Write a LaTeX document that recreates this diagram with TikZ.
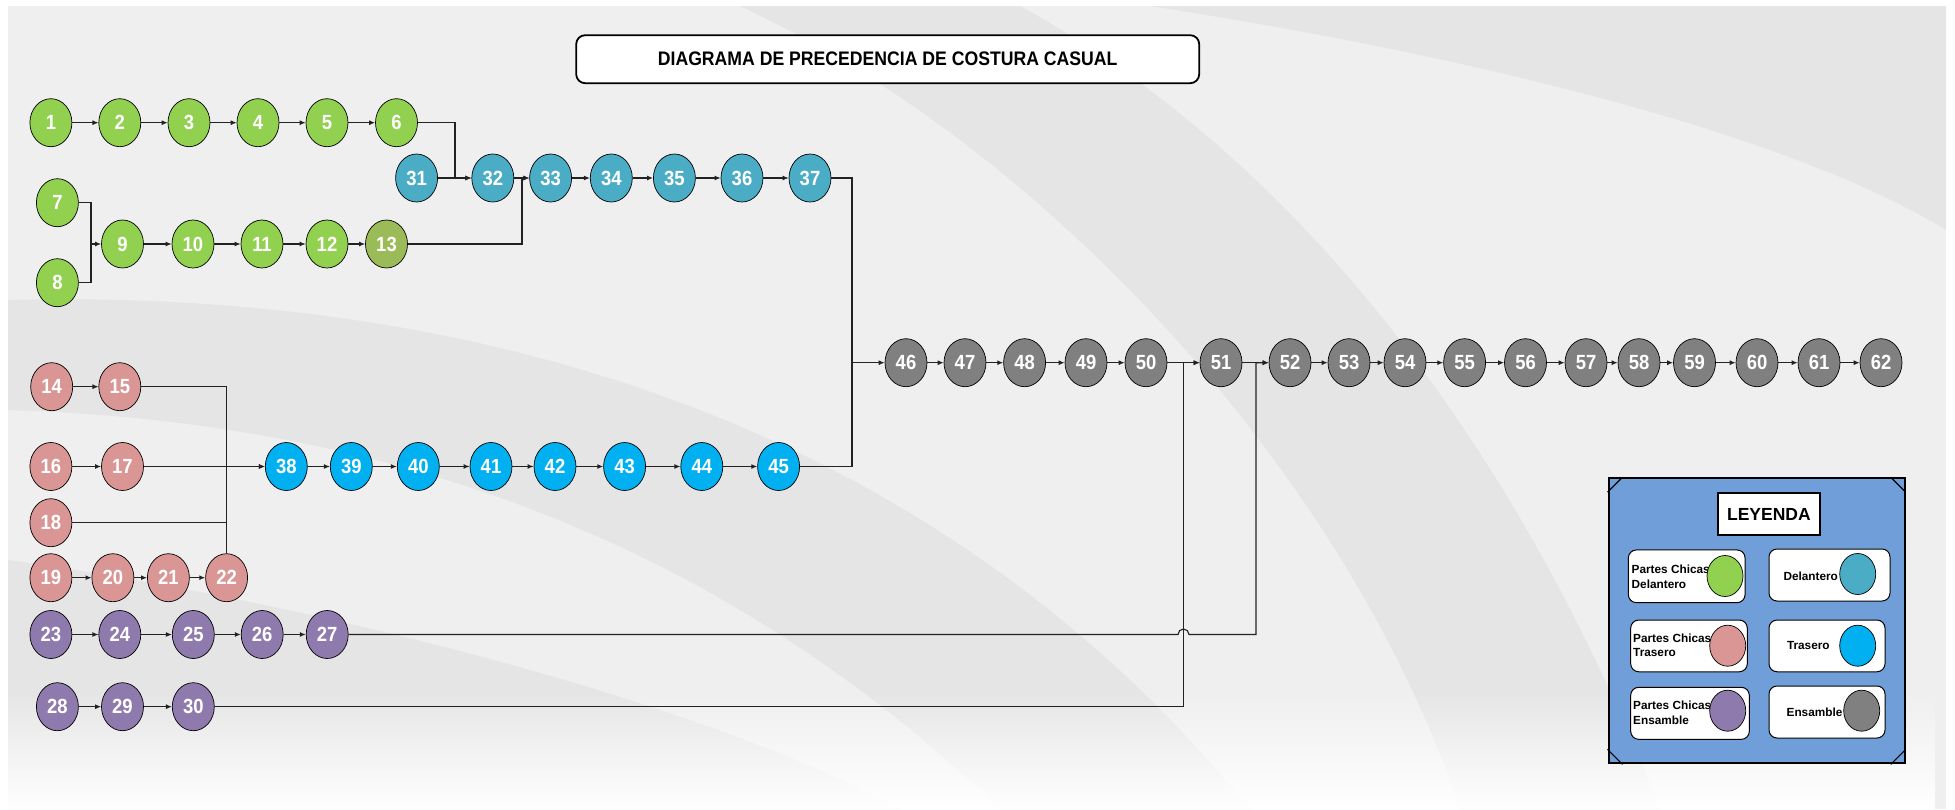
\documentclass[tikz,border=0pt]{standalone}
\usepackage{fontspec}
\setmainfont{Liberation Sans}
\newfontfamily\narrowfont[FakeStretch=0.9]{Liberation Sans}
\usetikzlibrary{shapes.geometric,arrows.meta,calc,fadings}
\definecolor{cgreen}{HTML}{92D050}
\definecolor{colive}{HTML}{9BBB59}
\definecolor{cteal}{HTML}{4BACC6}
\definecolor{ccyan}{HTML}{00B0F0}
\definecolor{cpink}{HTML}{DA9694}
\definecolor{cpurple}{HTML}{8F7AAD}
\definecolor{cgray}{HTML}{808080}
\definecolor{legblue}{HTML}{6F9ED8}
\definecolor{bgmain}{HTML}{EFEFEF}
\definecolor{bgdark}{HTML}{E5E5E5}
\definecolor{lineclr}{HTML}{222222}
\begin{document}
\begin{tikzpicture}[x=1pt,y=-1pt,
  nd/.style={ellipse, draw=black, line width=0.7pt, minimum width=42pt, minimum height=48pt, inner sep=0pt, text=white, font=\narrowfont\fontsize{20.5}{20.5}\selectfont\bfseries},
  pcd/.style={nd, fill=cgreen},
  pcdo/.style={nd, fill=colive},
  del/.style={nd, fill=cteal},
  pct/.style={nd, fill=cpink},
  tra/.style={nd, fill=ccyan},
  pce/.style={nd, fill=cpurple},
  ens/.style={nd, fill=cgray},
  con/.style={draw=lineclr, line width=1.1pt},
  arr/.style={con, -{Latex[length=6pt,width=5pt]}},
  legitem/.style={draw=black, fill=white, line width=1pt, rounded corners=8pt, inner sep=0pt},
  legdot/.style={ellipse, draw=black, line width=0.7pt, minimum width=36pt, minimum height=41pt, inner sep=0pt},
  legtxt/.style={font=\fontsize{11.8}{14.8}\selectfont\bfseries, inner sep=0pt, align=left}
]
\useasboundingbox (0,0) rectangle (1955,809);
% background
\fill[white] (0,0) rectangle (1955,809);
\fill[bgmain] (8,6) rectangle (1946,809);
\fill[bgdark] (8,300) .. controls (400,290) and (900,380) .. (1250,809) -- (1000,809) .. controls (700,520) and (350,420) .. (8,410) -- cycle;
\fill[bgdark] (740,6) .. controls (1050,150) and (1350,480) .. (1460,809) -- (1660,809) .. controls (1520,450) and (1300,160) .. (1020,6) -- cycle;
\fill[bgdark] (1150,6) .. controls (1500,60) and (1800,140) .. (1946,230) -- (1946,6) -- cycle;
\fill[bgdark] (8,560) .. controls (300,600) and (700,700) .. (900,809) -- (8,809) -- cycle;
\fill[white, path fading=north] (8,690) rectangle (1946,809);
% title
\node[draw=black, fill=white, line width=1.8pt, rounded corners=9pt, minimum width=623pt, minimum height=48pt, font=\narrowfont\fontsize{19.6}{19.6}\selectfont\bfseries] (title) at (887.7,59.2) {DIAGRAMA DE PRECEDENCIA DE COSTURA CASUAL};
% row 1
\node[pcd] (n1) at (50.9,122.7) {1};
\node[pcd] (n2) at (119.8,122.7) {2};
\node[pcd] (n3) at (189,122.7) {3};
\node[pcd] (n4) at (258,122.7) {4};
\node[pcd] (n5) at (327,122.7) {5};
\node[pcd] (n6) at (396.5,122.7) {6};
\node[pcd] (n7) at (57.4,202.7) {7};
\node[pcd] (n8) at (57.4,282.7) {8};
\node[pcd] (n9) at (122.5,244) {9};
\node[pcd] (n10) at (193,244) {10};
\node[pcd] (n11) at (262,244) {11};
\node[pcd] (n12) at (327,244) {12};
\node[pcdo] (n13) at (386.5,244) {13};
% delantero
\node[del] (n31) at (416.6,178) {31};
\node[del] (n32) at (492.8,178) {32};
\node[del] (n33) at (550.6,178) {33};
\node[del] (n34) at (611.3,178) {34};
\node[del] (n35) at (674.4,178) {35};
\node[del] (n36) at (742,178) {36};
\node[del] (n37) at (810,178) {37};
% partes chicas trasero
\node[pct] (n14) at (51.7,386.7) {14};
\node[pct] (n15) at (119.8,386.7) {15};
\node[pct] (n16) at (50.9,466.5) {16};
\node[pct] (n17) at (122.5,466.5) {17};
\node[pct] (n18) at (50.9,522.7) {18};
\node[pct] (n19) at (50.9,577.7) {19};
\node[pct] (n20) at (112.9,577.7) {20};
\node[pct] (n21) at (168.4,577.7) {21};
\node[pct] (n22) at (226.6,577.7) {22};
% trasero
\node[tra] (n38) at (286.3,466.5) {38};
\node[tra] (n39) at (351.3,466.5) {39};
\node[tra] (n40) at (418.3,466.5) {40};
\node[tra] (n41) at (491,466.5) {41};
\node[tra] (n42) at (555,466.5) {42};
\node[tra] (n43) at (624.6,466.5) {43};
\node[tra] (n44) at (701.8,466.5) {44};
\node[tra] (n45) at (778.6,466.5) {45};
% partes chicas ensamble
\node[pce] (n23) at (50.9,634.5) {23};
\node[pce] (n24) at (119.8,634.5) {24};
\node[pce] (n25) at (193.3,634.5) {25};
\node[pce] (n26) at (262.2,634.5) {26};
\node[pce] (n27) at (327.2,634.5) {27};
\node[pce] (n28) at (57.4,706.7) {28};
\node[pce] (n29) at (122.5,706.7) {29};
\node[pce] (n30) at (193.3,706.7) {30};
% ensamble
\node[ens] (n46) at (906,362.7) {46};
\node[ens] (n47) at (965,362.7) {47};
\node[ens] (n48) at (1024.6,362.7) {48};
\node[ens] (n49) at (1086,362.7) {49};
\node[ens] (n50) at (1146,362.7) {50};
\node[ens] (n51) at (1221,362.7) {51};
\node[ens] (n52) at (1290,362.7) {52};
\node[ens] (n53) at (1349,362.7) {53};
\node[ens] (n54) at (1405,362.7) {54};
\node[ens] (n55) at (1464.6,362.7) {55};
\node[ens] (n56) at (1525.5,362.7) {56};
\node[ens] (n57) at (1586,362.7) {57};
\node[ens] (n58) at (1639,362.7) {58};
\node[ens] (n59) at (1694.5,362.7) {59};
\node[ens] (n60) at (1757,362.7) {60};
\node[ens] (n61) at (1819,362.7) {61};
\node[ens] (n62) at (1881,362.7) {62};
% junction points
\coordinate (j1) at (455,178);
\coordinate (j2) at (91,244);
\coordinate (j3) at (522,178);
\coordinate (j4) at (852,362.7);
\coordinate (j5) at (1183.5,362.7);
\coordinate (j6) at (1256,362.7);
\coordinate (j7) at (226.6,466.5);
\coordinate (h1) at (1178,634.5);
\coordinate (c27) at (1256,634.5);
% straight arrows
\foreach \a/\b in {1/2,2/3,3/4,4/5,5/6,9/10,10/11,11/12,12/13,31/32,32/33,33/34,34/35,35/36,36/37,
  14/15,16/17,17/38,19/20,20/21,21/22,38/39,39/40,40/41,41/42,42/43,43/44,44/45,
  23/24,24/25,25/26,26/27,28/29,29/30,
  46/47,47/48,48/49,49/50,50/51,51/52,52/53,53/54,54/55,55/56,56/57,57/58,58/59,59/60,60/61,61/62}
  \draw[arr] (n\a) -- (n\b);
% merging connectors
\draw[arr] (n6.east) -| (j1) -- (n32.west);
\draw[con] (n7.east) -| (j2);
\draw[arr] (n8.east) -| (j2) -- (n9.west);
\draw[arr] (n13.east) -| (j3) -- (n33.west);
\draw[arr] (n37.east) -| (j4) -- (n46.west);
\draw[con] (n45.east) -| (j4);
\draw[arr] (n15.east) -| (j7) -- (n38.west);
\draw[con] (n18.east) -| (j7);
\draw[con] (n22.north) -- (j7);
\draw[arr] (n30.east) -| (j5) -- (n51.west);
\draw[arr] (n27.east) -- (h1) arc[start angle=180, end angle=360, radius=5.5] -- (c27) -- (j6) -- (n52.west);
% legend
\node[draw=black, fill=legblue, line width=2.2pt, minimum width=296pt, minimum height=285pt, inner sep=0pt] (leg) at (1756.6,620.8) {};
\draw[black, line width=1.2pt] ([yshift=-15pt]leg.north west) -- ([xshift=15pt]leg.north west);
\draw[black, line width=1.2pt] ([yshift=-15pt]leg.north east) -- ([xshift=-15pt]leg.north east);
\draw[black, line width=1.2pt] ([yshift=15pt]leg.south west) -- ([xshift=15pt]leg.south west);
\draw[black, line width=1.2pt] ([yshift=15pt]leg.south east) -- ([xshift=-15pt]leg.south east);
\node[draw=black, fill=white, line width=1.6pt, minimum width=102pt, minimum height=42pt, inner sep=0pt, font=\fontsize{17.5}{17.5}\selectfont\bfseries] (legtitle) at (1768.9,514.2) {LEYENDA};
\node[legitem, minimum width=116.7pt, minimum height=52.7pt] (l1) at (1686.7,576.3) {};
\node[legitem, minimum width=116.6pt, minimum height=51.7pt] (l2) at (1689,645.9) {};
\node[legitem, minimum width=118.6pt, minimum height=52pt] (l3) at (1690,713.3) {};
\node[legitem, minimum width=121pt, minimum height=52pt] (r1) at (1829.5,575) {};
\node[legitem, minimum width=116pt, minimum height=51.7pt] (r2) at (1827,645.9) {};
\node[legitem, minimum width=116pt, minimum height=52pt] (r3) at (1827,712) {};
\node[legtxt, anchor=west] (t1) at (1631.5,576.7) {Partes Chicas\\Delantero};
\node[legtxt, anchor=west] (t2) at (1633,645.3) {Partes Chicas\\Trasero};
\node[legtxt, anchor=west] (t3) at (1633,712.9) {Partes Chicas\\Ensamble};
\node[legtxt] (t4) at (1810.7,576) {Delantero};
\node[legtxt] (t5) at (1808.3,645.7) {Trasero};
\node[legtxt] (t6) at (1814.5,712) {Ensamble};
\node[legdot, fill=cgreen] (d1) at (1725,576) {};
\node[legdot, fill=cpink] (d2) at (1727.7,645.7) {};
\node[legdot, fill=cpurple] (d3) at (1727.7,710.7) {};
\node[legdot, fill=cteal] (d4) at (1857.7,574) {};
\node[legdot, fill=ccyan] (d5) at (1857.7,645.7) {};
\node[legdot, fill=cgray] (d6) at (1861.7,710.7) {};
\end{tikzpicture}
\end{document}
